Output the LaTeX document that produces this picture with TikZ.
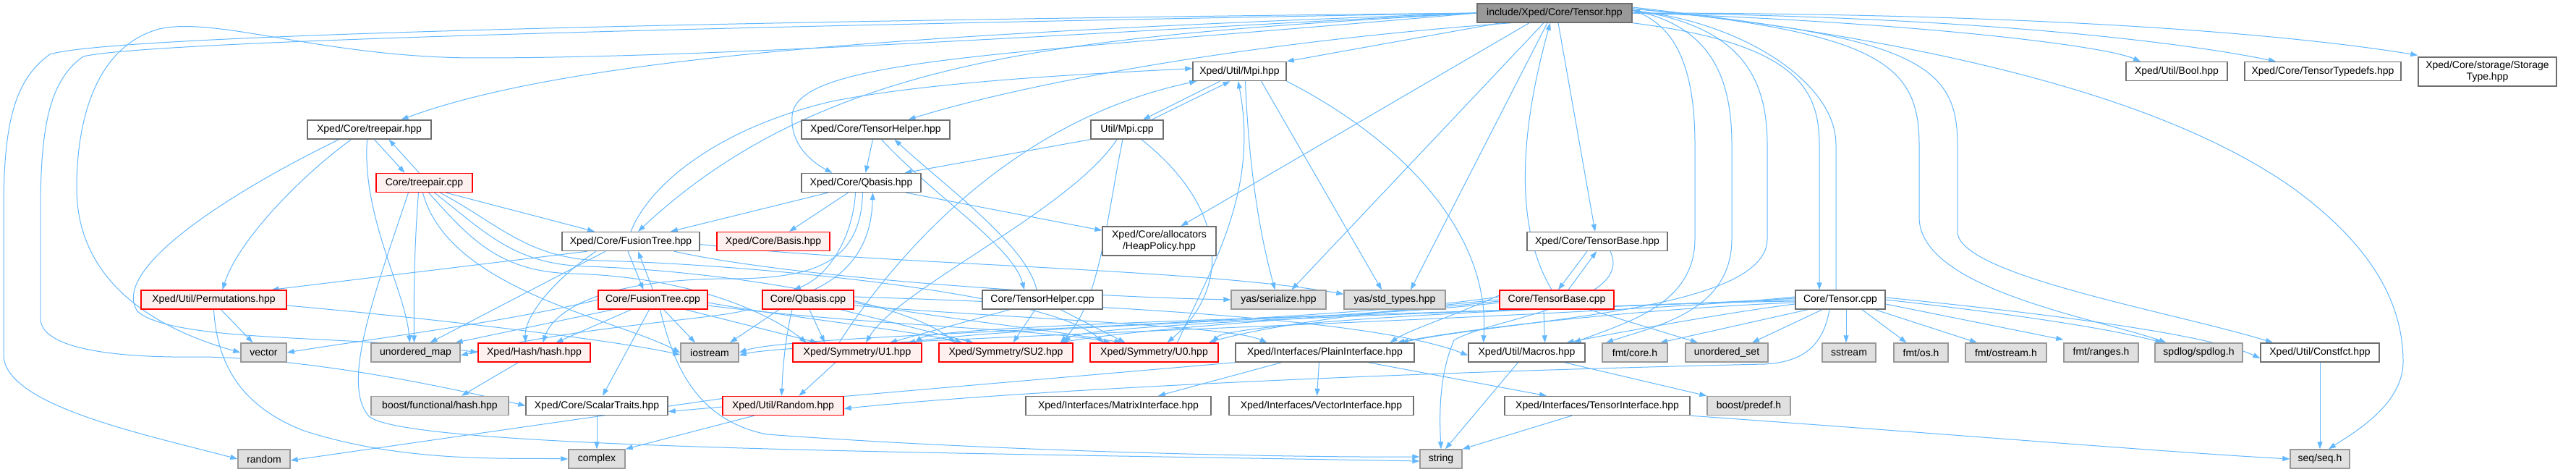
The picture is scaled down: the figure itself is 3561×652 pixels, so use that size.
\documentclass[tikz,border=0pt]{standalone}
\usepackage{fontspec}
\setmainfont{Liberation Sans}
\usetikzlibrary{arrows.meta,backgrounds}

\definecolor{edgeblue}{RGB}{99,184,255}
\definecolor{boxgray}{RGB}{110,110,110}
\definecolor{sysgray}{RGB}{153,153,153}
\definecolor{sysfill}{RGB}{224,224,224}
\definecolor{redfill}{RGB}{255,240,240}
\definecolor{rootfill}{RGB}{153,153,153}

\tikzset{
  incnode/.style={draw=boxgray, fill=white, line width=1.4pt, minimum height=26, inner sep=0pt, align=center},
  sysnode/.style={incnode, draw=sysgray, fill=sysfill},
  rednode/.style={incnode, draw=red, fill=redfill},
  rootnode/.style={incnode, fill=rootfill},
  dep/.style={draw=edgeblue, line width=1pt, -{Triangle[length=10pt,width=7pt]}}
}

\begin{document}
\begin{tikzpicture}[x=1pt, y=-1pt, font=\fontsize{14}{16}\selectfont]
  \useasboundingbox (0,0) rectangle (3561,652);

  % Row 0 and 1
  \node[rootnode, minimum width=214] (tensorH) at (2149,18) {include/Xped/Core/Tensor.hpp};
  \node[incnode, minimum width=129] (mpiH) at (1713.5,98.5) {Xped/Util/Mpi.hpp};
  \node[incnode, minimum width=140] (boolH) at (3009,98.5) {Xped/Util/Bool.hpp};
  \node[incnode, minimum width=216] (typedefsH) at (3211,98.5) {Xped/Core/TensorTypedefs.hpp};
  \node[incnode, minimum width=191, minimum height=40] (storageH) at (3438.5,99) {Xped/Core/storage/Storage\\Type.hpp};

  % Rows 2 to 4
  \node[incnode, minimum width=171] (treepairH) at (510.5,179) {Xped/Core/treepair.hpp};
  \node[incnode, minimum width=205] (helperH) at (1210.5,179) {Xped/Core/TensorHelper.hpp};
  \node[incnode, minimum width=100] (mpiC) at (1558,179) {Util/Mpi.cpp};
  \node[rednode, minimum width=133] (treepairC) at (586.5,252.5) {Core/treepair.cpp};
  \node[incnode, minimum width=165] (qbasisH) at (1190.5,252.5) {Xped/Core/Qbasis.hpp};
  \node[incnode, minimum width=190] (fusionH) at (872,333.5) {Xped/Core/FusionTree.hpp};
  \node[rednode, minimum width=156] (basisH) at (1069,333.5) {Xped/Core/Basis.hpp};
  \node[incnode, minimum width=157, minimum height=40] (heapH) at (1602.5,333) {Xped/Core/allocators\\/HeapPolicy.hpp};
  \node[incnode, minimum width=194] (baseH) at (2208,333.5) {Xped/Core/TensorBase.hpp};

  % Row 5
  \node[rednode, minimum width=201] (permH) at (295.5,414) {Xped/Util/Permutations.hpp};
  \node[rednode, minimum width=151] (fusionC) at (902.5,414) {Core/FusionTree.cpp};
  \node[rednode, minimum width=126] (qbasisC) at (1117,414) {Core/Qbasis.cpp};
  \node[incnode, minimum width=166] (helperC) at (1441,414) {Core/TensorHelper.cpp};
  \node[sysnode, minimum width=131] (yasSer) at (1767.5,414) {yas/serialize.hpp};
  \node[sysnode, minimum width=140] (yasStd) at (1928,414) {yas/std\_types.hpp};
  \node[rednode, minimum width=158] (baseC) at (2152,414) {Core/TensorBase.cpp};
  \node[incnode, minimum width=124] (tensorC) at (2544,414) {Core/Tensor.cpp};

  % Row 6
  \node[sysnode, minimum width=63] (vec) at (364.5,487) {vector};
  \node[sysnode, minimum width=123] (umap) at (574.5,487) {unordered\_map};
  \node[rednode, minimum width=155] (hashH) at (738.5,487) {Xped/Hash/hash.hpp};
  \node[sysnode, minimum width=80] (iostr) at (981,487) {iostream};
  \node[rednode, minimum width=178] (uoneH) at (1185,487) {Xped/Symmetry/U1.hpp};
  \node[rednode, minimum width=185] (sutwoH) at (1390.5,487) {Xped/Symmetry/SU2.hpp};
  \node[rednode, minimum width=177] (uzeroH) at (1595.5,487) {Xped/Symmetry/U0.hpp};
  \node[incnode, minimum width=247] (plainH) at (1831.5,487) {Xped/Interfaces/PlainInterface.hpp};
  \node[incnode, minimum width=161] (macrosH) at (2110.5,487) {Xped/Util/Macros.hpp};
  \node[sysnode, minimum width=90] (fmtCore) at (2260,487) {fmt/core.h};
  \node[sysnode, minimum width=114] (uset) at (2387,487) {unordered\_set};
  \node[sysnode, minimum width=74] (sstr) at (2556,487) {sstream};
  \node[sysnode, minimum width=75] (fmtOs) at (2655.5,487) {fmt/os.h};
  \node[sysnode, minimum width=112] (fmtOstr) at (2773,487) {fmt/ostream.h};
  \node[sysnode, minimum width=103] (fmtRanges) at (2904.5,487) {fmt/ranges.h};
  \node[sysnode, minimum width=121] (spdlog) at (3039.5,487) {spdlog/spdlog.h};
  \node[incnode, minimum width=164] (constfctH) at (3207,487) {Xped/Util/Constfct.hpp};

  % Row 7 and 8
  \node[sysnode, minimum width=190] (boostHash) at (608,560.5) {boost/functional/hash.hpp};
  \node[incnode, minimum width=196] (scalarH) at (825,560.5) {Xped/Core/ScalarTraits.hpp};
  \node[rednode, minimum width=167] (randomH) at (1082.5,560.5) {Xped/Util/Random.hpp};
  \node[incnode, minimum width=256] (matrixH) at (1546,560.5) {Xped/Interfaces/MatrixInterface.hpp};
  \node[incnode, minimum width=255] (vectorH) at (1826.5,560.5) {Xped/Interfaces/VectorInterface.hpp};
  \node[incnode, minimum width=256] (tensorIH) at (2208,560.5) {Xped/Interfaces/TensorInterface.hpp};
  \node[sysnode, minimum width=115] (boostPredef) at (2417.5,560.5) {boost/predef.h};
  \node[sysnode, minimum width=72] (rnd) at (365,634) {random};
  \node[sysnode, minimum width=78] (cplx) at (825,634) {complex};
  \node[sysnode, minimum width=58] (str) at (1992,634) {string};
  \node[sysnode, minimum width=82] (seqH) at (3207,634) {seq/seq.h};

  \begin{pgfonlayer}{background}
  \fill[white] (0,0) rectangle (3561,652);

  % Tensor.hpp, left side
  \draw[dep] (tensorH.west) .. controls (900,30) and (150,50) .. (69,75) .. controls (20,110) and (5,170) .. (5,290) -- (5,490) .. controls (5,560) and (200,600) .. (rnd.west);
  \draw[dep] (tensorH.west) .. controls (900,38) and (200,58) .. (115,78) .. controls (70,110) and (56,170) .. (56,290) -- (56,440) .. controls (56,480) and (150,495) .. (280,493) .. controls (420,495) and (600,530) .. (scalarH.west);
  \draw[dep] (tensorH.west) .. controls (1500,45) and (1000,80) .. (660,80) .. controls (450,80) and (300,22) .. (220,40) .. controls (130,65) and (106,170) .. (106,260) .. controls (106,380) and (200,450) .. (vec.west);
  \draw[dep] (tensorH.west) .. controls (1300,45) and (800,75) .. ([xshift=44]treepairH.north);
  \draw[dep] (tensorH.west) .. controls (1500,50) and (1150,70) .. ([xshift=10]fusionH.north);
  \draw[dep] (tensorH.west) .. controls (1400,75) and (1100,80) .. (1095,160) .. controls (1092,205) and (1130,228) .. ([xshift=-40]qbasisH.north);
  \draw[dep] ([xshift=-60]tensorH.south) .. controls (1700,60) and (1400,120) .. ([xshift=45]helperH.north);
  \draw[dep] ([xshift=-75]tensorH.south) -- (mpiH.north east);
  \draw[dep] ([xshift=-35]tensorH.south) -- ([xshift=30]heapH.north);
  \draw[dep] ([xshift=-15]tensorH.south) -- ([xshift=18]yasSer.north);
  \draw[dep] ([xshift=-10]tensorH.south) -- ([xshift=22]yasStd.north);
  \draw[dep] ([xshift=5]tensorH.south) -- ([xshift=-3]baseH.north);
  \draw[dep] ([xshift=-7]baseC.north) .. controls (2085,300) and (2110,150) .. ([xshift=-6]tensorH.south);

  % Tensor.hpp, right side
  \draw[dep] (tensorH.south east) .. controls (2480,60) and (2515,120) .. (2515,200) -- ([xshift=-29]tensorC.north);
  \draw[dep] ([xshift=-6]tensorC.north) -- (2538,200) .. controls (2538,110) and (2400,30) .. ([yshift=3]tensorH.east);
  \draw[dep] ([yshift=4]tensorH.east) .. controls (2320,35) and (2343,100) .. (2343,200) -- (2343,330) .. controls (2343,420) and (2250,445) .. ([xshift=65]macrosH.north);
  \draw[dep] ([yshift=4]tensorH.east) .. controls (2360,35) and (2394,100) .. (2394,200) -- (2394,330) .. controls (2394,430) and (2290,450) .. ([xshift=-40]fmtCore.north);
  \draw[dep] ([yshift=4]tensorH.east) .. controls (2400,35) and (2443,100) .. (2443,200) -- (2443,330) .. controls (2443,430) and (2100,440) .. ([xshift=105]plainH.north);
  \draw[dep] (tensorH.east) .. controls (2600,28) and (2900,60) .. ([xshift=-50]boolH.north);
  \draw[dep] (tensorH.east) .. controls (2700,22) and (3000,55) .. ([xshift=-65]typedefsH.north);
  \draw[dep] (tensorH.east) .. controls (2800,18) and (3150,45) .. ([yshift=2]storageH.north west);
  \draw[dep] ([yshift=6]tensorH.east) .. controls (2600,45) and (2653,90) .. (2653,200) -- (2653,300) .. controls (2653,400) and (2900,440) .. ([xshift=-45]spdlog.north);
  \draw[dep] ([yshift=6]tensorH.east) .. controls (2650,50) and (2706,90) .. (2706,200) -- (2706,320) .. controls (2706,380) and (3000,430) .. ([xshift=-65]constfctH.north);
  \draw[dep] ([yshift=8]tensorH.east) .. controls (2700,60) and (3000,140) .. (3170,260) .. controls (3280,340) and (3322,420) .. (3322,500) .. controls (3322,560) and (3250,600) .. ([xshift=12]seqH.north);

  % treepair
  \draw[dep] ([xshift=7]treepairH.south) -- ([xshift=-27]treepairC.north);
  \draw[dep] ([xshift=-7]treepairC.north) -- ([xshift=27]treepairH.south);
  \draw[dep] ([xshift=-42]treepairH.south) .. controls (330,260) and (150,370) .. (190,430) .. controls (240,475) and (500,462) .. (hashH.west);
  \draw[dep] ([xshift=-25]treepairH.south) .. controls (420,240) and (330,330) .. ([xshift=12]permH.north);
  \draw[dep] ([xshift=-3]treepairH.south) .. controls (500,300) and (560,400) .. ([xshift=-8]umap.north);
  \draw[dep] ([xshift=30]treepairC.south) -- ([xshift=-50]fusionH.north);
  \draw[dep] ([xshift=-8]treepairC.south) .. controls (572,350) and (572,420) .. ([xshift=-2]umap.north);
  \draw[dep] ([xshift=-22]treepairC.south) .. controls (520,400) and (470,530) .. (510,575) .. controls (560,620) and (1300,625) .. ([yshift=-3]str.west);
  \draw[dep] ([xshift=-2]treepairC.south) .. controls (620,400) and (850,440) .. (iostr.west);
  \draw[dep] ([xshift=6]treepairC.south) .. controls (650,330) and (690,375) .. (790,378) .. controls (950,382) and (1060,430) .. ([xshift=-70]uoneH.north);
  \draw[dep] ([xshift=14]treepairC.south) .. controls (670,320) and (710,365) .. (810,368) .. controls (1000,374) and (1250,415) .. ([xshift=-70]sutwoH.north);
  \draw[dep] ([xshift=22]treepairC.south) .. controls (690,310) and (730,357) .. (830,360) .. controls (1050,366) and (1450,405) .. ([xshift=-70]uzeroH.north);

  % FusionTree
  \draw[dep] (fusionH.north) .. controls (900,250) and (1000,175) .. (1150,140) .. controls (1300,110) and (1550,100) .. ([yshift=4]mpiH.west);
  \draw[dep] ([xshift=-60]fusionH.south) -- ([xshift=80]permH.north);
  \draw[dep] ([xshift=-35]fusionH.south) -- ([xshift=20]umap.north);
  \draw[dep] ([xshift=-48]fusionH.south) .. controls (760,390) and (725,440) .. ([xshift=-12]hashH.north);
  \draw[dep] ([xshift=-4]fusionH.south) -- ([xshift=-13]fusionC.north);
  \draw[dep] (fusionC.north) -- ([xshift=10]fusionH.south);
  \draw[dep] ([xshift=60]fusionH.south) .. controls (1100,385) and (1500,410) .. (yasSer.west);
  \draw[dep] ([yshift=-4]fusionH.east) .. controls (1200,365) and (1650,370) .. ([yshift=-6]yasStd.north west);
  \draw[dep] ([xshift=-30]fusionC.south) -- ([xshift=30]hashH.north);
  \draw[dep] ([xshift=-55]fusionC.south) -- ([xshift=55]umap.north);
  \draw[dep] (fusionC.west) .. controls (700,445) and (500,470) .. (vec.east);
  \draw[dep] ([xshift=15]fusionC.south) -- ([xshift=-20]iostr.north);
  \draw[dep] ([xshift=-5]fusionC.south) -- ([xshift=8]scalarH.north);
  \draw[dep] ([xshift=10]fusionC.south) .. controls (930,500) and (960,580) .. (1060,600) .. controls (1400,625) and (1800,632) .. ([yshift=3]str.west);
  \draw[dep] ([xshift=45]fusionC.south) -- ([xshift=-55]uoneH.north);
  \draw[dep] ([yshift=-4]fusionC.east) .. controls (1100,440) and (1250,455) .. ([xshift=-60]sutwoH.north);
  \draw[dep] ([yshift=-8]fusionC.east) .. controls (1200,450) and (1450,455) .. ([xshift=-60]uzeroH.north);

  % Qbasis and TensorHelper
  \draw[dep] ([xshift=-46]qbasisH.south) -- ([xshift=55]fusionH.north);
  \draw[dep] ([xshift=-18]qbasisH.south) -- ([xshift=22]basisH.north);
  \draw[dep] ([xshift=62]qbasisH.south) -- ([yshift=-6]heapH.north west);
  \draw[dep] ([xshift=-8]qbasisH.south) .. controls (1180,320) and (1150,380) .. ([xshift=-20]qbasisC.north);
  \draw[dep] ([xshift=8]qbasisC.north) .. controls (1190,370) and (1205,320) .. ([xshift=16]qbasisH.south);
  \draw[dep] ([xshift=2]qbasisH.south) .. controls (1190,360) and (1130,385) .. (1010,385) .. controls (830,385) and (765,430) .. ([xshift=12]hashH.north);
  \draw[dep] ([xshift=-40]qbasisC.south) -- ([xshift=28]iostr.north);
  \draw[dep] ([xshift=-22]qbasisC.south) .. controls (1085,470) and (1082,510) .. ([xshift=-2]randomH.north);
  \draw[dep] ([xshift=2]qbasisC.south) -- ([xshift=-45]uoneH.north);
  \draw[dep] ([xshift=45]qbasisC.south) -- ([xshift=-45]sutwoH.north);
  \draw[dep] ([yshift=-4]qbasisC.east) .. controls (1300,440) and (1450,455) .. ([xshift=-45]uzeroH.north);
  \draw[dep] ([yshift=4]qbasisC.east) .. controls (1500,420) and (1900,440) .. ([yshift=-4]macrosH.west);
  \draw[dep] ([yshift=-8]qbasisC.east) .. controls (1400,440) and (1700,450) .. ([xshift=-80]plainH.north);
  \draw[dep] ([xshift=-20]qbasisC.south west) .. controls (1000,440) and (800,450) .. ([yshift=-4]umap.east);
  \draw[dep] ([xshift=-4]helperH.south) -- ([xshift=6]qbasisH.north);
  \draw[dep] ([xshift=8]helperH.south) .. controls (1290,270) and (1400,340) .. ([xshift=-25]helperC.north);
  \draw[dep] ([xshift=-8]helperC.north) .. controls (1420,340) and (1310,260) .. ([xshift=26]helperH.south);
  \draw[dep] ([xshift=-45]helperC.south) -- ([xshift=45]uoneH.north);
  \draw[dep] ([xshift=-10]helperC.south) -- ([xshift=10]sutwoH.north);
  \draw[dep] ([xshift=25]helperC.south) -- ([xshift=-40]uzeroH.north);

  % Mpi
  \draw[dep] ([xshift=-27]mpiH.south) -- ([xshift=22]mpiC.north);
  \draw[dep] ([xshift=34]mpiC.north) -- ([xshift=-13]mpiH.south);
  \draw[dep] (mpiC.south west) -- ([xshift=60]qbasisH.north);
  \draw[dep] ([xshift=-14]mpiC.south) .. controls (1480,290) and (1240,400) .. ([xshift=12]uoneH.north);
  \draw[dep] ([xshift=-6]mpiC.south) .. controls (1530,300) and (1520,420) .. ([xshift=75]sutwoH.north);
  \draw[dep] ([xshift=20]mpiC.south) .. controls (1700,290) and (1700,400) .. ([xshift=18]uzeroH.north);
  \draw[dep] ([xshift=8]mpiH.south) .. controls (1725,200) and (1735,300) .. ([xshift=-5]yasSer.north);
  \draw[dep] ([xshift=30]mpiH.south) -- ([xshift=-18]yasStd.north);
  \draw[dep] (mpiH.south east) .. controls (1950,200) and (2060,330) .. ([xshift=-60]macrosH.north);
  \draw[dep] ([xshift=-25]uoneH.north) .. controls (1220,380) and (1380,170) .. ([xshift=6]mpiH.south west);
  \draw[dep] ([xshift=32]uzeroH.north) .. controls (1680,360) and (1740,260) .. ([xshift=-2]mpiH.south);
  \draw[dep] ([xshift=-30]uoneH.south) -- ([xshift=22]randomH.north);

  % TensorBase
  \draw[dep] ([xshift=-14]baseH.south) -- ([xshift=2]baseC.north);
  \draw[dep] ([xshift=16]baseC.north) -- ([xshift=-1]baseH.south);
  \draw[dep] ([xshift=18]baseH.south) .. controls (2260,420) and (2060,440) .. (2010,470) .. controls (1988,520) and (1990,580) .. (str.north);
  \draw[dep] ([xshift=-18]baseC.south) -- ([xshift=25]macrosH.north);
  \draw[dep] ([xshift=45]baseC.south) -- ([xshift=-40]uset.north);
  \draw[dep] ([yshift=-4]baseC.west) .. controls (1900,440) and (1400,450) .. ([xshift=70]uoneH.north);
  \draw[dep] ([yshift=-2]baseC.west) .. controls (1900,435) and (1600,450) .. ([xshift=75]sutwoH.north);
  \draw[dep] (baseC.west) .. controls (1900,430) and (1750,450) .. ([xshift=75]uzeroH.north);
  \draw[dep] ([yshift=4]baseC.west) .. controls (1800,450) and (1100,460) .. (iostr.east);
  \draw[dep] ([yshift=6]baseC.west) .. controls (2000,440) and (1950,455) .. ([xshift=90]plainH.north);

  % Tensor.cpp
  \draw[dep] ([xshift=8]tensorC.south) -- ([xshift=-4]sstr.north);
  \draw[dep] ([xshift=-45]tensorC.south) -- ([xshift=35]fmtCore.north);
  \draw[dep] ([xshift=-25]tensorC.south) -- ([xshift=35]uset.north);
  \draw[dep] ([xshift=30]tensorC.south) -- ([xshift=-20]fmtOs.north);
  \draw[dep] ([xshift=48]tensorC.south) -- ([xshift=-40]fmtOstr.north);
  \draw[dep] ([yshift=-6]tensorC.east) -- ([yshift=4]fmtRanges.north west);
  \draw[dep] (tensorC.east) .. controls (2750,430) and (2900,450) .. ([xshift=-50]spdlog.north);
  \draw[dep] ([yshift=3]tensorC.east) .. controls (2800,430) and (3050,460) .. ([yshift=-8]constfctH.west);
  \draw[dep] ([xshift=-15]tensorC.south) .. controls (2520,480) and (2490,500) .. (2440,503) .. controls (1900,515) and (1400,540) .. ([yshift=-4]randomH.east);
  \draw[dep] ([yshift=-6]tensorC.west) .. controls (2400,430) and (2260,455) .. ([xshift=55]macrosH.north);
  \draw[dep] ([yshift=-4]tensorC.west) .. controls (2300,425) and (2050,450) .. ([xshift=100]plainH.north);
  \draw[dep] ([yshift=-2]tensorC.west) .. controls (2200,420) and (1700,445) .. ([xshift=80]uzeroH.north);
  \draw[dep] (tensorC.west) .. controls (2200,425) and (1500,445) .. ([xshift=80]sutwoH.north);
  \draw[dep] ([yshift=2]tensorC.west) .. controls (2200,430) and (1300,445) .. ([xshift=80]uoneH.north);
  \draw[dep] ([yshift=4]tensorC.west) .. controls (2200,440) and (1100,470) .. ([yshift=-4]iostr.east);

  % Permutations and lower rows
  \draw[dep] ([xshift=10]permH.south) -- ([xshift=-15]vec.north);
  \draw[dep] ([yshift=-8]permH.east) .. controls (600,440) and (850,470) .. ([yshift=-3]iostr.west);
  \draw[dep] (permH.south) .. controls (300,500) and (330,560) .. (420,595) .. controls (560,640) and (700,632) .. (cplx.west);
  \draw[dep] (plainH.south west) -- ([yshift=-8]scalarH.east);
  \draw[dep] ([xshift=-60]plainH.south) -- ([xshift=55]matrixH.north);
  \draw[dep] ([xshift=-8]plainH.south) -- ([xshift=-6]vectorH.north);
  \draw[dep] ([xshift=60]plainH.south) -- ([xshift=-70]tensorIH.north);
  \draw[dep] ([xshift=-35]tensorIH.south) -- (str.north east);
  \draw[dep] (tensorIH.south east) .. controls (2700,600) and (3000,625) .. (seqH.west);
  \draw[dep] ([xshift=-12]macrosH.south) -- ([xshift=6]str.north);
  \draw[dep] ([xshift=52]macrosH.south) -- (boostPredef.north west);
  \draw[dep] (constfctH.south) -- (seqH.north);
  \draw[dep] ([yshift=10]randomH.west) -- ([yshift=-2]rnd.east);
  \draw[dep] ([xshift=-40]randomH.south) -- (cplx.north east);
  \draw[dep] (scalarH.south) -- (cplx.north);
  \draw[dep] ([xshift=-22]hashH.south) -- ([xshift=30]boostHash.north);
  \end{pgfonlayer}
\end{tikzpicture}
\end{document}
